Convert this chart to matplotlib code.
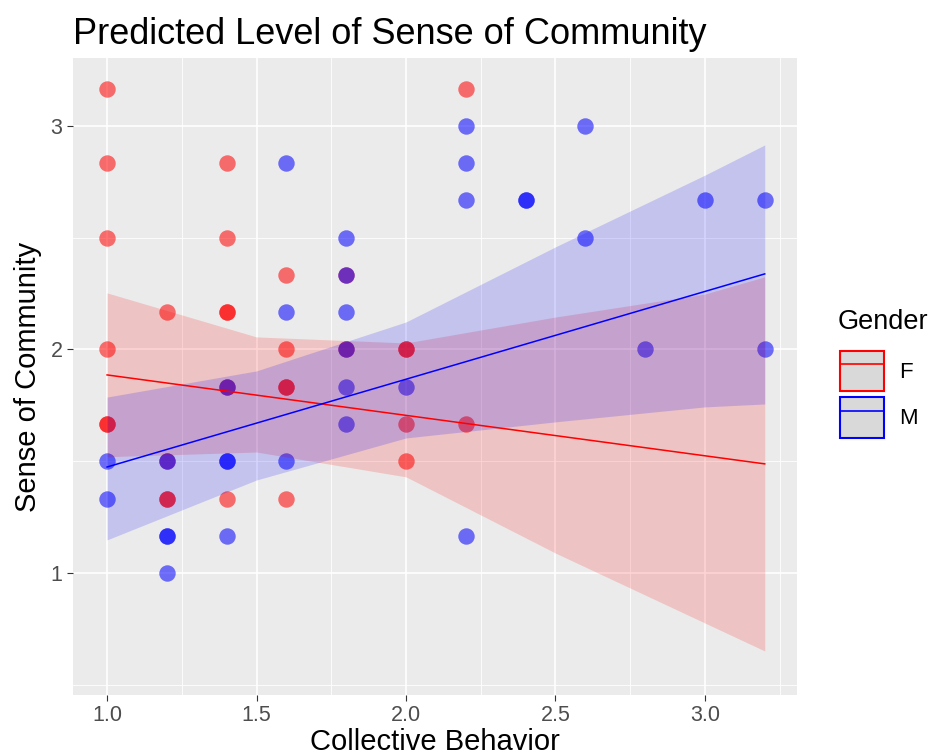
import numpy as np
import matplotlib.pyplot as plt
from matplotlib.patches import Patch
from matplotlib.lines import Line2D
from matplotlib.legend_handler import HandlerTuple

plt.rcParams['font.family'] = ['Liberation Sans', 'DejaVu Sans']

# points (duplicates = overlapping points)
f_x = [1.0, 1.0, 1.0, 1.0, 1.0, 1.0,
       1.2, 1.2, 1.2, 1.2,
       1.4, 1.4, 1.4, 1.4, 1.4, 1.4,
       1.6, 1.6, 1.6, 1.6, 1.6,
       1.8, 1.8,
       2.0, 2.0, 2.0, 2.0,
       2.2, 2.2]
f_y = [3.167, 2.833, 2.5, 2.0, 1.667, 1.667,
       2.167, 1.5, 1.333, 1.333,
       2.833, 2.5, 2.167, 2.167, 1.833, 1.333,
       2.333, 2.0, 1.833, 1.833, 1.333,
       2.333, 2.0,
       2.0, 2.0, 1.667, 1.5,
       3.167, 1.667]

m_x = [1.0, 1.0,
       1.2, 1.2, 1.2, 1.2,
       1.4, 1.4, 1.4, 1.4,
       1.6, 1.6, 1.6,
       1.8, 1.8, 1.8, 1.8, 1.8, 1.8,
       2.0,
       2.2, 2.2, 2.2, 2.2,
       2.4, 2.4,
       2.6, 2.6,
       2.8,
       3.0,
       3.2, 3.2]
m_y = [1.5, 1.333,
       1.5, 1.167, 1.167, 1.0,
       1.833, 1.5, 1.5, 1.167,
       2.833, 2.167, 1.5,
       2.5, 2.333, 2.167, 2.0, 1.833, 1.667,
       1.833,
       3.0, 2.833, 2.667, 1.167,
       2.667, 2.667,
       3.0, 2.5,
       2.0,
       2.667,
       2.667, 2.0]

# predicted lines (end points) and confidence bands
line_x = [1.0, 3.2]
f_line = [1.886, 1.488]
m_line = [1.474, 2.338]

band_x = [1.0, 1.5, 2.0, 2.5, 3.0, 3.2]
f_upper = [2.253, 2.056, 2.029, 2.145, 2.248, 2.325]
f_lower = [1.520, 1.541, 1.430, 1.089, 0.776, 0.651]
m_upper = [1.787, 1.904, 2.123, 2.459, 2.780, 2.915]
m_lower = [1.148, 1.416, 1.604, 1.676, 1.743, 1.756]

red = '#FF0000'
blue = '#0000FF'

fig = plt.figure(figsize=(9.38, 7.56), dpi=100)
ax = fig.add_axes([0.0778, 0.0807, 0.7719, 0.8426])
ax.set_facecolor('#EBEBEB')

# ggplot-like grid
ax.set_xticks([1.0, 1.5, 2.0, 2.5, 3.0])
ax.set_xticks([1.25, 1.75, 2.25, 2.75, 3.25], minor=True)
ax.set_yticks([1, 2, 3])
ax.set_yticks([0.5, 1.5, 2.5], minor=True)
ax.grid(which='major', color='white', lw=1.2)
ax.grid(which='minor', color='white', lw=0.6)
ax.set_axisbelow(True)
for s in ax.spines.values():
    s.set_visible(False)
ax.tick_params(which='major', length=4, color='#333333', labelcolor='#4D4D4D', labelsize=15.5)
ax.tick_params(which='minor', length=0)
ax.set_xticklabels(['1.0', '1.5', '2.0', '2.5', '3.0'])

ax.scatter(f_x, f_y, s=140, color=red, alpha=0.55, lw=0, zorder=2)
ax.scatter(m_x, m_y, s=140, color=blue, alpha=0.55, lw=0, zorder=2)

ax.fill_between(band_x, f_lower, f_upper, color=red, alpha=0.17, lw=0, zorder=3)
ax.fill_between(band_x, m_lower, m_upper, color=blue, alpha=0.17, lw=0, zorder=3)
ax.plot(line_x, f_line, color=red, lw=1.1, zorder=4)
ax.plot(line_x, m_line, color=blue, lw=1.1, zorder=4)

ax.set_xlim(0.886, 3.308)
ax.set_ylim(0.454, 3.304)

ax.set_xlabel('Collective Behavior', fontsize=21, labelpad=1)
ax.set_ylabel('Sense of Community', fontsize=21, labelpad=6)
ax.set_title('Predicted Level of Sense of Community', fontsize=26, loc='left', pad=10)

# legend: grey key box with coloured outline and a line through it
handles = [(Patch(facecolor='#D9D9D9', edgecolor=red, lw=1.5), Line2D([], [], color=red, lw=1.2)),
           (Patch(facecolor='#D9D9D9', edgecolor=blue, lw=1.5), Line2D([], [], color=blue, lw=1.2))]
leg = ax.legend(handles, ['F', 'M'], handler_map={tuple: HandlerTuple(ndivide=1)},
                fontsize=16, frameon=False,
                loc='upper left', bbox_to_anchor=(0.884, 0.551), bbox_transform=fig.transFigure,
                handlelength=1.95, handleheight=2.45, labelspacing=0.25, handletextpad=0.7,
                borderpad=0)
fig.text(0.893, 0.565, 'Gender', fontsize=19.5, va='baseline', ha='left')

fig.savefig('out.png', dpi=100)
